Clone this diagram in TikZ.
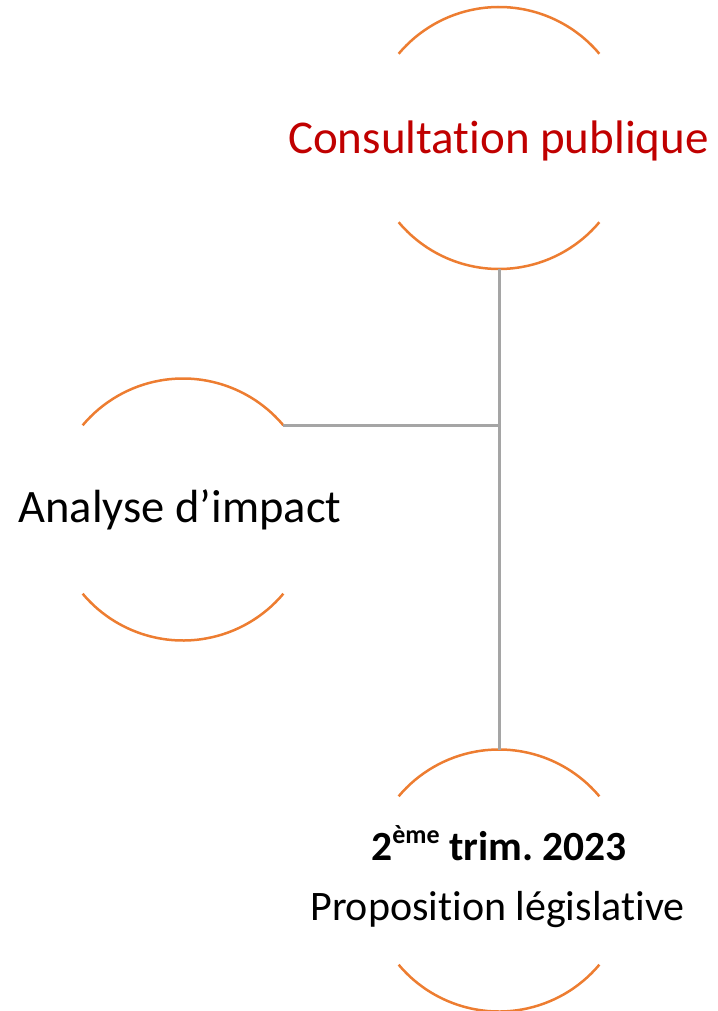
\documentclass[tikz,border=0pt]{standalone}
\usepackage{fontspec}
\setmainfont{Carlito}[Ligatures=NoCommon]
\frenchspacing
\definecolor{arcorange}{HTML}{ED7D31}
\definecolor{linegray}{HTML}{A5A5A5}
\definecolor{titlered}{HTML}{C00000}
\begin{document}
\begin{tikzpicture}[x=1pt,y=1pt,
  ring/.style={circle, minimum size=262pt, inner sep=0pt, outer sep=0pt},
  arcline/.style={draw=arcorange, line width=2.5pt},
  connector/.style={draw=linegray, line width=3pt},
  label/.style={anchor=base, inner sep=0pt, font=\fontsize{#1}{#1}\selectfont}]
\useasboundingbox (0,0) rectangle (717,-1011);
\node[ring] (c1) at (499,-138) {};
\node[ring] (c2) at (183,-509.5) {};
\node[ring] (c3) at (499,-880.5) {};
\foreach \c in {c1,c2,c3}{
  \draw[arcline] (\c.40) arc[start angle=40, end angle=140, radius=131pt];
  \draw[arcline] (\c.220) arc[start angle=220, end angle=320, radius=131pt];
}
\coordinate (j) at (c2.40 -| c1.south);
\draw[connector] (c1.south) -- (c3.north);
\draw[connector] (c2.40) -- (j);
\node[label=47, text=titlered] (t1) at (498.5,-154) {Consultation publique};
\node[label=46.5] (t2) at (180,-522) {Analyse d’impact};
\node[label=41.5] (t3) at (499,-860.7) {\bfseries 2\raisebox{0.42em}{\fontsize{26}{26}\selectfont ème} trim. 2023};
\node[label=42] (t4) at (497.5,-920.7) {Proposition législative};
\end{tikzpicture}
\end{document}
